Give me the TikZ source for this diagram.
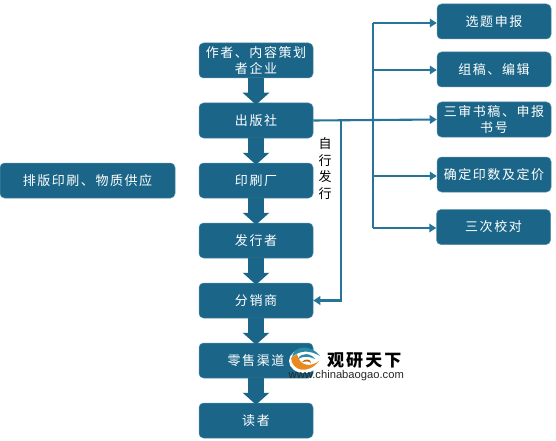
\documentclass[tikz,border=0pt]{standalone}
\usepackage{fontspec}
\setmainfont{Noto Sans CJK SC}
\newfontfamily\latinsans{Liberation Sans}
\newfontfamily\spacedcjk[LetterSpace=12]{Noto Sans CJK SC}
\usetikzlibrary{arrows.meta}
\definecolor{boxblue}{HTML}{1B6688}
\definecolor{linkblue}{HTML}{27749A}
\definecolor{logoorange}{HTML}{E98A1E}
\definecolor{logoblue}{HTML}{2B8AA6}
\tikzset{
  x=1pt,y=-1pt,
  flowbox/.style={draw=boxblue!75!white,line width=.5pt,fill=boxblue,rounded corners=4.5pt,text=white,
    minimum width=114pt,minimum height=35pt,inner sep=1pt,align=center,font=\spacedcjk\fontsize{13}{16.5}\selectfont,text width=110pt},
  blockarrow/.style={draw=boxblue,line width=15.5pt,-{Triangle[length=12pt,width=26pt]},shorten <=-.5pt},
  linkline/.style={draw=linkblue,line width=2.1pt},
  linkarrow/.style={linkline,-{Triangle[length=7pt,width=8.5pt]}},
}
\begin{document}
\begin{tikzpicture}
\useasboundingbox (0,0) rectangle (556,441);
\node[flowbox] (author) at (256,60.5) {作者、内容策划\\者企业};
\node[flowbox] (press) at (256,120.5) {出版社};
\node[flowbox] (printer) at (256,180.5) {印刷厂};
\node[flowbox] (issuer) at (256,240.5) {发行者};
\node[flowbox] (dist) at (256,300.5) {分销商};
\node[flowbox] (retail) at (256,360.5) {零售渠道};
\node[flowbox] (reader) at (256,420.5) {读者};
\node[flowbox,minimum width=175pt,text width=165pt] (supply) at (87.5,180.5) {排版印刷、物质供应};
\node[flowbox] (r1) at (494,21.5) {选题申报};
\node[flowbox] (r2) at (494,69.5) {组稿、编辑};
\node[flowbox] (r3) at (494,119.5) {三审书稿、申报\\书号};
\node[flowbox] (r4) at (494,174.5) {确定印数及定价};
\node[flowbox] (r5) at (493.5,227) {三次校对};
\foreach \a/\b in {author/press,press/printer,printer/issuer,issuer/dist,dist/retail,retail/reader}
  \draw[blockarrow] (\a.south) -- ([yshift=-2pt]\b.north);
\coordinate (trunktop) at (373,23);
\coordinate (trunkbot) at (373,228);
\coordinate (selfturn) at (341,120.5);
\coordinate (branchb) at (373,70);
\coordinate (branchd) at (373,176);
\draw[linkline] (trunktop) -- (trunkbot);
\draw[linkarrow] (press.east) -- (r3.west);
\draw[linkarrow] (trunktop) -- (r1.west |- trunktop);
\draw[linkarrow] (branchb) -- (r2.west |- branchb);
\draw[linkarrow] (branchd) -- (r4.west |- branchd);
\draw[linkarrow] (trunkbot) -- (r5.west |- trunkbot);
\draw[linkarrow] (selfturn) -- (selfturn |- dist.east) -- (dist.east);
\node[font=\fontsize{13}{16.7}\selectfont,align=center,inner sep=0pt,text=black] (self) at (325,168.5) {自\\行\\发\\行};
% watermark logo
\fill[white] (304,361) circle [x radius=15pt,y radius=12pt];
\fill[logoorange] (291,358) .. controls (292,371) and (308,375) .. (319,361) .. controls (311,367) and (300,367) .. (297,354) -- cycle;
\fill[logoblue] (292,357) .. controls (294,345) and (311,344) .. (320,356) .. controls (310,350) and (300,350) .. (292,357) -- cycle;
\fill[logoblue] (298,359) .. controls (301,352) and (311,353) .. (315,359) .. controls (309,356) and (303,356) .. (298,359) -- cycle;
\fill[logoorange!80!black] (302,362) .. controls (305,358) and (311,359) .. (311,363) .. controls (309,361) and (305,361) .. (302,362) -- cycle;
\node[font=\fontsize{17}{17}\selectfont\bfseries\addfontfeatures{LetterSpace=12},inner sep=0pt,text=black,anchor=west] (brand) at (327,360.5) {观研天下};
\node[font=\latinsans\fontsize{11.2}{12}\selectfont,inner sep=0pt,text=black!85,anchor=west] (site) at (288.5,375.5) {www.chinabaogao.com};
\end{tikzpicture}
\end{document}
